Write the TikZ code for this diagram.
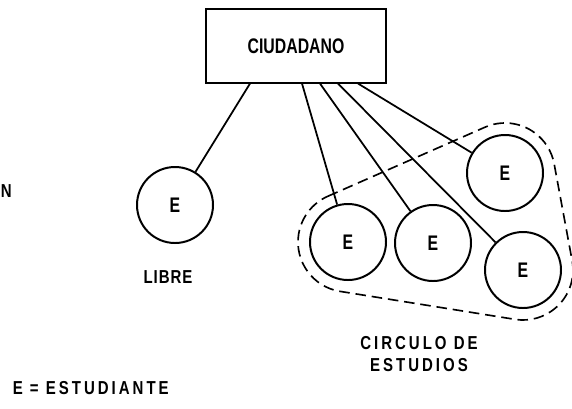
\documentclass[tikz,border=0pt]{standalone}
\usepackage{fontspec}
\setmainfont{Liberation Sans}
\usetikzlibrary{positioning,calc}

\begin{document}
\begin{tikzpicture}[
    x=0.03cm, y=-0.03cm,
    line width=1.5pt,
    ent/.style={draw, rectangle, minimum width=5.4cm, minimum height=2.2cm,
                font=\fontsize{18}{20}\selectfont\bfseries\addfontfeature{FakeStretch=0.75}},
    est/.style={draw, circle, minimum size=2.28cm, line width=1.7pt,
                font=\fontsize{18}{20}\selectfont\bfseries\addfontfeature{FakeStretch=0.75}},
    lbl/.style={align=center,
                font=\fontsize{16}{19.5}\selectfont\bfseries\addfontfeature{FakeStretch=0.8,LetterSpace=16}},
    grupo/.style={dash pattern=on 9pt off 5pt, line width=1.4pt}
]
    \useasboundingbox (0,0) rectangle (572,408);

    % Ciudadano
    \node[ent] (ciu) at (296,46) {CIUDADANO};

    % Estudiantes
    \node[est] (libre) at (175,205) {E};
    \node[est] (e1) at (348,242) {E};
    \node[est] (e2) at (433,243) {E};
    \node[est] (e3) at (523,270) {E};
    \node[est] (e4) at (505,173) {E};

    % Lines
    \draw ([xshift=-1.38cm]ciu.south) -- (libre);
    \draw ([xshift=0.18cm]ciu.south) -- (e1);
    \draw ([xshift=0.72cm]ciu.south) -- (e2);
    \draw ([xshift=1.26cm]ciu.south) -- (e3);
    \draw ([xshift=1.86cm]ciu.south) -- (e4);

    % Circulo de estudios
    \draw[grupo] ($(e1)+(246.3:50)$) -- ($(e4)+(246.3:50)$)
        arc[start angle=246.3, end angle=349.5, radius=50]
        -- ($(e3)+(349.5:50)$)
        arc[start angle=-10.5, end angle=99.1, radius=50]
        -- ($(e1)+(99.1:50)$)
        arc[start angle=99.1, end angle=246.3, radius=50] -- cycle;

    % Labels
    \node[lbl, font=\fontsize{16}{19.5}\selectfont\bfseries\addfontfeature{FakeStretch=0.8,LetterSpace=5}] (tlibre) at (168,277) {LIBRE};
    \node[lbl] (tcirculo) at (419,354) {CIRCULO DE\\ESTUDIOS};
    \node[lbl, anchor=west] (tleyenda) at (8,388) {E = ESTUDIANTE};
    \node[lbl, anchor=west, inner sep=0pt] (tn) at (0,191) {N};
\end{tikzpicture}
\end{document}
